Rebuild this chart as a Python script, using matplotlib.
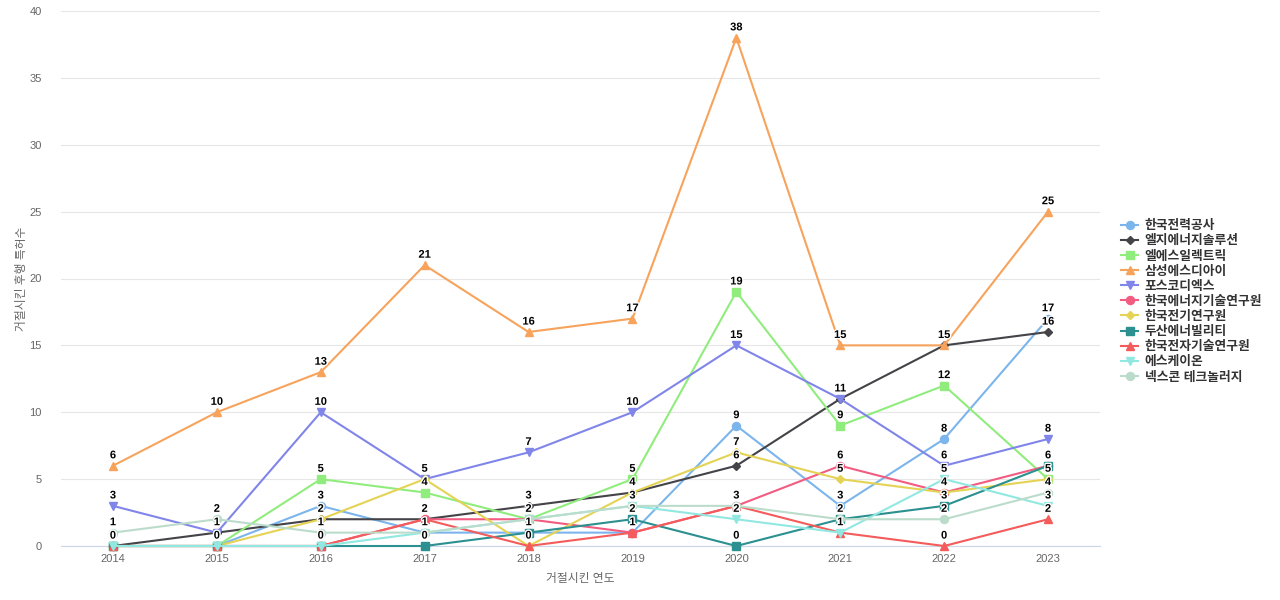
import matplotlib
matplotlib.use("Agg")
import matplotlib.pyplot as plt
import matplotlib.patheffects as pe

plt.rcParams['font.family'] = ['Liberation Sans', 'Noto Sans CJK KR', 'DejaVu Sans']

years = [2014, 2015, 2016, 2017, 2018, 2019, 2020, 2021, 2022, 2023]

kepco = [0, 0, 3, 1, 1, 1, 9, 3, 8, 17]
lg_es = [0, 1, 2, 2, 3, 4, 6, 11, 15, 16]
ls_electric = [0, 0, 5, 4, 2, 5, 19, 9, 12, 5]
samsung_sdi = [6, 10, 13, 21, 16, 17, 38, 15, 15, 25]
posco_dx = [3, 1, 10, 5, 7, 10, 15, 11, 6, 8]
kier = [0, 0, 0, 2, 2, 1, 3, 6, 4, 6]
keri = [0, 0, 2, 5, 0, 4, 7, 5, 4, 5]
doosan = [0, 0, 0, 0, 1, 2, 0, 2, 3, 6]
keti = [0, 0, 0, 2, 0, 1, 3, 1, 0, 2]
sk_on = [0, 0, 0, 1, 2, 3, 2, 1, 5, 3]
nexcon = [1, 2, 1, 1, 2, 3, 3, 2, 2, 4]

series = [
    ("한국전력공사", kepco, "#7cb5ec", "o"),
    ("엘지에너지솔루션", lg_es, "#434348", "D"),
    ("엘에스일렉트릭", ls_electric, "#90ed7d", "s"),
    ("삼성에스디아이", samsung_sdi, "#f7a35c", "^"),
    ("포스코디엑스", posco_dx, "#8085e9", "v"),
    ("한국에너지기술연구원", kier, "#f15c80", "o"),
    ("한국전기연구원", keri, "#e4d354", "D"),
    ("두산에너빌리티", doosan, "#2b908f", "s"),
    ("한국전자기술연구원", keti, "#f45b5b", "^"),
    ("에스케이온", sk_on, "#91e8e1", "v"),
    ("넥스콘 테크놀러지", nexcon, "#bcdccb", "o"),
]

fig = plt.figure(figsize=(12.8, 6), dpi=100)
ax = fig.add_axes([61 / 1280, 1 - 546 / 600, 1039 / 1280, 535 / 600])

xs = list(range(len(years)))
for name, vals, color, mk in series:
    ms = 4.4 if mk == "D" else 5.8
    ax.plot(xs, vals, color=color, lw=1.5, marker=mk, ms=ms, label=name,
            clip_on=False, zorder=3)

# data labels, one per distinct value at each year
for i in xs:
    seen = set()
    for name, vals, color, mk in series:
        v = vals[i]
        if v in seen:
            continue
        seen.add(v)
        ax.annotate(str(v), (i, v), xytext=(0, 7.5), textcoords="offset points",
                    ha="center", va="center", fontsize=8, fontweight="bold",
                    color="black", zorder=5,
                    path_effects=[pe.withStroke(linewidth=2, foreground="white")])

ax.set_xlim(-0.5, len(years) - 0.5)
ax.set_ylim(0, 40)
ax.set_yticks(range(0, 41, 5))
ax.set_xticks(xs)
ax.set_xticklabels([str(y) for y in years])
ax.grid(axis="y", color="#e6e6e6", lw=0.8)
ax.set_axisbelow(True)
for s in ["top", "right", "left"]:
    ax.spines[s].set_visible(False)
ax.spines["bottom"].set_color("#ccd6eb")
ax.tick_params(axis="y", length=0, labelsize=8, labelcolor="#666666", pad=14)
ax.tick_params(axis="x", length=0, labelsize=8, labelcolor="#666666", pad=6)
ax.set_xlabel("거절시킨 연도", fontsize=8.5, color="#666666", labelpad=6)
ax.set_ylabel("거절시킨 후행 특허수", fontsize=8.5, color="#666666")
ax.yaxis.set_label_coords(-33 / 1039, 0.5)

leg = ax.legend(loc="upper left", bbox_to_anchor=(1116 / 1280, 1 - 215 / 600),
                bbox_transform=fig.transFigure, frameon=False,
                prop={"size": 9.2, "weight": "bold"}, labelspacing=0.24,
                handlelength=1.35, handletextpad=0.5, borderaxespad=0)
for t in leg.get_texts():
    t.set_color("#333333")

fig.savefig("out.png", dpi=100)
